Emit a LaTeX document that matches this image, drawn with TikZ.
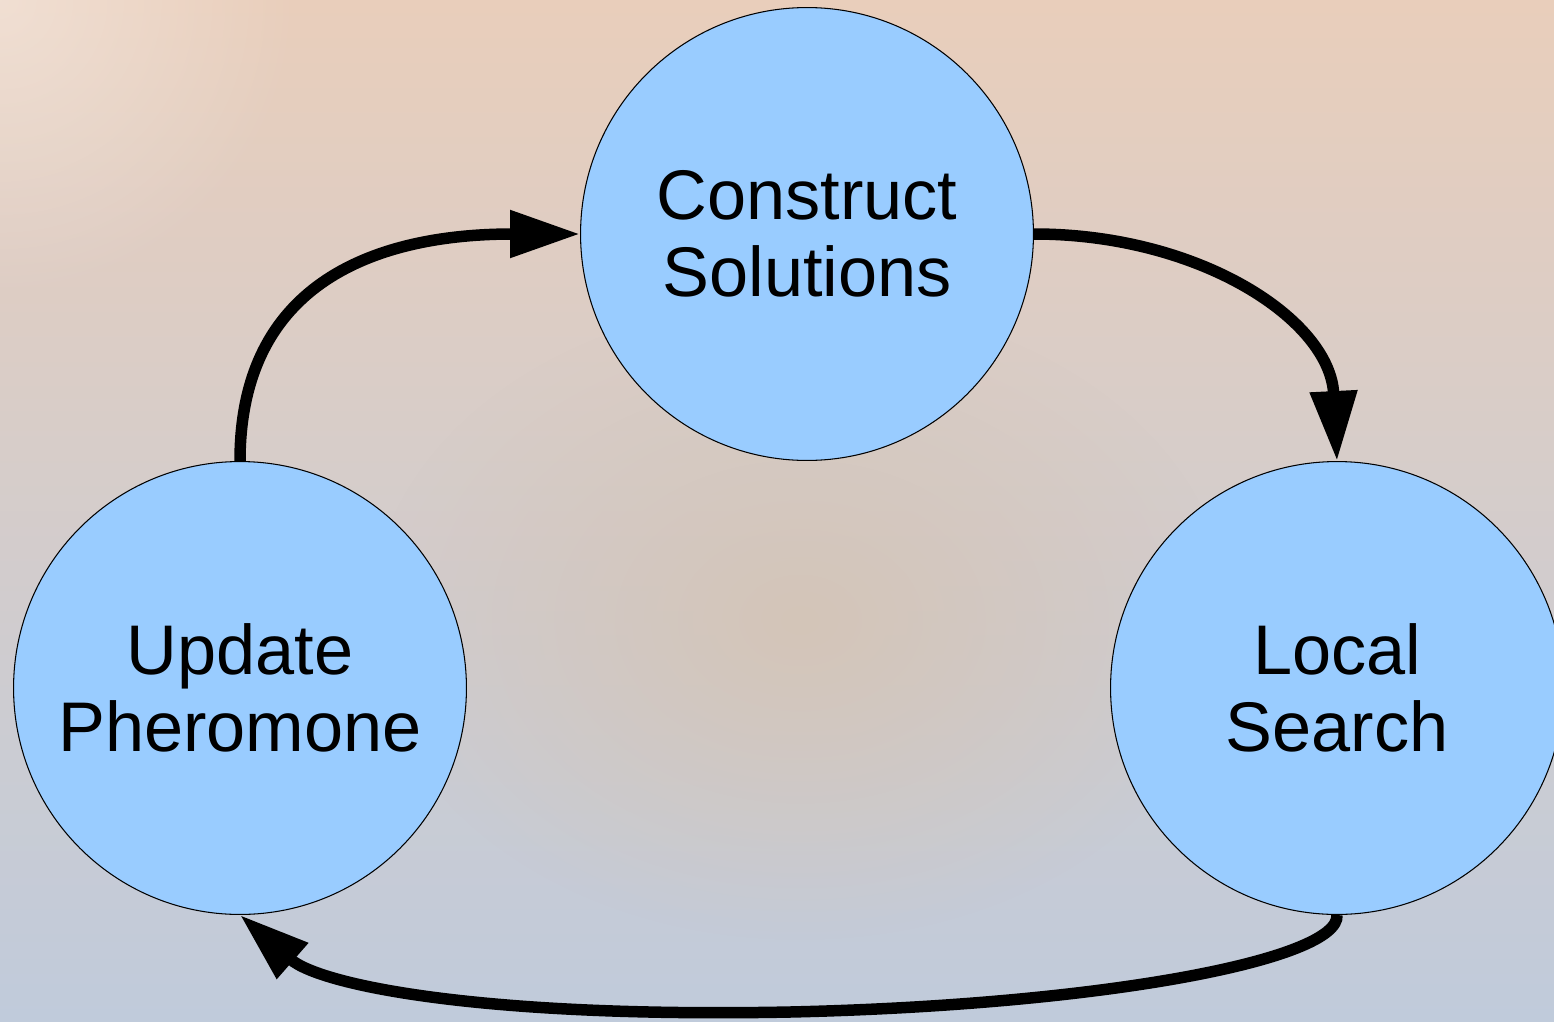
\documentclass[tikz,border=0pt]{standalone}
\usepackage{fontspec}
\setmainfont{Liberation Sans}
\usetikzlibrary{arrows.meta,fadings}

\definecolor{bgpeach}{RGB}{233,206,187}
\definecolor{bgpink}{RGB}{214,182,202}
\definecolor{bgblue}{RGB}{192,203,219}
\definecolor{bgmid}{RGB}{212,197,184}
\definecolor{stagefill}{RGB}{153,204,255}

\tikzfading[name=softglow, inner color=transparent!0, outer color=transparent!100]

\tikzset{
  stage/.style={circle, draw=black, line width=0.6pt, fill=stagefill,
    minimum size=9.06cm, inner sep=0pt, align=center,
    font=\fontsize{40}{44}\selectfont},
  flow/.style={line width=0.23cm, -{Triangle[length=1.4cm,width=0.9cm]}}
}

\begin{document}
\begin{tikzpicture}[x=0.02cm,y=-0.02cm]
\useasboundingbox (0,0) rectangle (1554,1021);
\clip (0,0) rectangle (1554,1021);

% background
\shade[top color=bgpeach, middle color=bgpink, bottom color=bgblue]
  (0,0) rectangle (1554,1021);
\fill[bgmid, path fading=softglow] (800,620) ellipse (430 and 320);
\fill[white, opacity=0.35, path fading=softglow] (0,0) circle (300);

% stages
\node[stage] (construct) at (807,234) {Construct\\Solutions};
\node[stage] (local) at (1337,688) {Local\\Search};
\node[stage] (update) at (240,688) {Update\\Pheromone};

% loop
\draw[flow] (update.north) .. controls (240,280) and (380,234) .. (construct.west);
\draw[flow] (construct.east) .. controls (1200,234) and (1330,320) .. (local.north);
\draw[flow] (local.south) .. controls (1340,960) and (1100,1005) .. (790,1012)
                          .. controls (480,1018) and (320,985) .. (update.south);
\end{tikzpicture}
\end{document}
